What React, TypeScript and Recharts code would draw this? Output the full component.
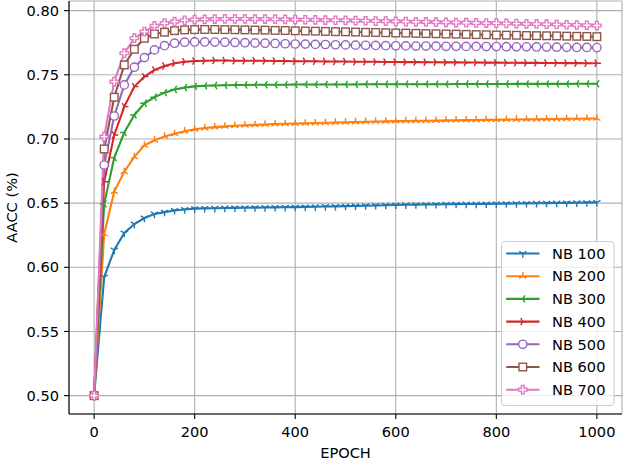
import React from 'react';
import { LineChart, Line, XAxis, YAxis, CartesianGrid, Legend } from 'recharts';

const EPOCHS = [
  0, 20, 40, 60, 80, 100, 120, 140, 160, 180, 200,
  220, 240, 260, 280, 300, 320, 340, 360, 380, 400,
  420, 440, 460, 480, 500, 520, 540, 560, 580, 600,
  620, 640, 660, 680, 700, 720, 740, 760, 780, 800,
  820, 840, 860, 880, 900, 920, 940, 960, 980, 1000,
];

const NB100 = [
  0.5000, 0.5924, 0.6135, 0.6267, 0.6337, 0.6384, 0.6415, 0.6430, 0.6443, 0.6450, 0.6457,
  0.6459, 0.6460, 0.6462, 0.6463, 0.6464, 0.6465, 0.6466, 0.6467, 0.6468, 0.6469,
  0.6471, 0.6472, 0.6474, 0.6475, 0.6477, 0.6478, 0.6480, 0.6482, 0.6484, 0.6486,
  0.6487, 0.6488, 0.6489, 0.6490, 0.6491, 0.6492, 0.6493, 0.6493, 0.6494, 0.6495,
  0.6496, 0.6497, 0.6498, 0.6499, 0.6500, 0.6501, 0.6502, 0.6503, 0.6504, 0.6506,
];

const NB200 = [
  0.5000, 0.6260, 0.6590, 0.6745, 0.6860, 0.6950, 0.6990, 0.7020, 0.7040, 0.7060, 0.7075,
  0.7085, 0.7092, 0.7098, 0.7103, 0.7107, 0.7110, 0.7113, 0.7116, 0.7118, 0.7120,
  0.7122, 0.7124, 0.7126, 0.7128, 0.7130, 0.7132, 0.7134, 0.7136, 0.7137, 0.7139,
  0.7140, 0.7141, 0.7142, 0.7143, 0.7145, 0.7146, 0.7147, 0.7148, 0.7149, 0.7150,
  0.7151, 0.7152, 0.7153, 0.7154, 0.7155, 0.7156, 0.7157, 0.7158, 0.7159, 0.7160,
];

const NB300 = [
  0.5000, 0.6495, 0.6855, 0.7050, 0.7187, 0.7278, 0.7325, 0.7361, 0.7385, 0.7400, 0.7410,
  0.7414, 0.7417, 0.7419, 0.7420, 0.7421, 0.7422, 0.7422, 0.7423, 0.7423, 0.7424,
  0.7424, 0.7424, 0.7425, 0.7425, 0.7425, 0.7425, 0.7426, 0.7426, 0.7426, 0.7426,
  0.7427, 0.7427, 0.7427, 0.7427, 0.7427, 0.7428, 0.7428, 0.7428, 0.7428, 0.7428,
  0.7428, 0.7429, 0.7429, 0.7429, 0.7429, 0.7429, 0.7429, 0.7430, 0.7430, 0.7430,
];

const NB400 = [
  0.5000, 0.6667, 0.7031, 0.7252, 0.7408, 0.7486, 0.7538, 0.7569, 0.7590, 0.7602, 0.7608,
  0.7610, 0.7611, 0.7611, 0.7610, 0.7610, 0.7609, 0.7609, 0.7608, 0.7607, 0.7606,
  0.7606, 0.7605, 0.7604, 0.7604, 0.7603, 0.7602, 0.7602, 0.7601, 0.7600, 0.7600,
  0.7599, 0.7599, 0.7598, 0.7598, 0.7597, 0.7597, 0.7596, 0.7596, 0.7595, 0.7595,
  0.7594, 0.7594, 0.7593, 0.7593, 0.7592, 0.7592, 0.7591, 0.7591, 0.7590, 0.7590,
];

const NB500 = [
  0.5000, 0.6797, 0.7179, 0.7421, 0.7559, 0.7634, 0.7694, 0.7727, 0.7746, 0.7754, 0.7756,
  0.7756, 0.7755, 0.7754, 0.7752, 0.7750, 0.7748, 0.7746, 0.7744, 0.7742, 0.7740,
  0.7739, 0.7737, 0.7736, 0.7734, 0.7733, 0.7731, 0.7730, 0.7729, 0.7727, 0.7726,
  0.7725, 0.7724, 0.7724, 0.7723, 0.7722, 0.7722, 0.7721, 0.7721, 0.7720, 0.7720,
  0.7719, 0.7718, 0.7718, 0.7717, 0.7716, 0.7715, 0.7714, 0.7713, 0.7713, 0.7712,
];

const NB600 = [
  0.5000, 0.6922, 0.7325, 0.7577, 0.7699, 0.7785, 0.7818, 0.7832, 0.7844, 0.7850, 0.7852,
  0.7853, 0.7853, 0.7852, 0.7851, 0.7850, 0.7849, 0.7848, 0.7846, 0.7845, 0.7843,
  0.7841, 0.7840, 0.7838, 0.7836, 0.7835, 0.7833, 0.7831, 0.7830, 0.7828, 0.7826,
  0.7825, 0.7823, 0.7821, 0.7820, 0.7818, 0.7817, 0.7815, 0.7813, 0.7812, 0.7810,
  0.7809, 0.7808, 0.7806, 0.7805, 0.7804, 0.7803, 0.7801, 0.7800, 0.7799, 0.7797,
];

const NB700 = [
  0.5000, 0.7018, 0.7447, 0.7668, 0.7785, 0.7836, 0.7881, 0.7902, 0.7914, 0.7925, 0.7930,
  0.7932, 0.7934, 0.7935, 0.7935, 0.7935, 0.7934, 0.7934, 0.7933, 0.7932, 0.7930,
  0.7929, 0.7928, 0.7926, 0.7925, 0.7924, 0.7922, 0.7921, 0.7919, 0.7918, 0.7916,
  0.7915, 0.7913, 0.7912, 0.7910, 0.7909, 0.7907, 0.7906, 0.7904, 0.7903, 0.7902,
  0.7900, 0.7899, 0.7897, 0.7896, 0.7894, 0.7892, 0.7890, 0.7888, 0.7886, 0.7884,
];

const X_TICKS = [0, 200, 400, 600, 800, 1000];
const Y_TICKS = [0.5, 0.55, 0.6, 0.65, 0.7, 0.75, 0.8];

type MarkerKind = 'triDown' | 'triUp' | 'triLeft' | 'triRight' | 'circle' | 'square' | 'plus';

const SERIES: { key: string; name: string; color: string; marker: MarkerKind; values: number[] }[] = [
  { key: 'nb100', name: 'NB 100', color: '#1f77b4', marker: 'triDown', values: NB100 },
  { key: 'nb200', name: 'NB 200', color: '#ff7f0e', marker: 'triUp', values: NB200 },
  { key: 'nb300', name: 'NB 300', color: '#2ca02c', marker: 'triLeft', values: NB300 },
  { key: 'nb400', name: 'NB 400', color: '#d62728', marker: 'triRight', values: NB400 },
  { key: 'nb500', name: 'NB 500', color: '#9467bd', marker: 'circle', values: NB500 },
  { key: 'nb600', name: 'NB 600', color: '#8c564b', marker: 'square', values: NB600 },
  { key: 'nb700', name: 'NB 700', color: '#e377c2', marker: 'plus', values: NB700 },
];

const DATA = EPOCHS.map((epoch, i) => {
  const row: Record<string, number> = { epoch };
  SERIES.forEach((s) => {
    row[s.key] = s.values[i];
  });
  return row;
});

const FONT = '"DejaVu Sans", sans-serif';
const FS = 14.6;
const MS = 8.33;
const MEW = 1.39;

function Marker({ kind, cx, cy, color }: { kind: MarkerKind; cx: number; cy: number; color: string }) {
  const r = MS / 2;
  const c = 0.866 * r;
  const h = 0.5 * r;
  const seg = (pts: [number, number][]) => (
    <path
      d={pts.map(([dx, dy]) => `M${cx},${cy}L${cx + dx},${cy + dy}`).join('')}
      stroke={color}
      strokeWidth={MEW}
      fill="none"
    />
  );
  switch (kind) {
    case 'triDown':
      return seg([[0, r], [-c, -h], [c, -h]]);
    case 'triUp':
      return seg([[0, -r], [-c, h], [c, h]]);
    case 'triLeft':
      return seg([[-r, 0], [h, -c], [h, c]]);
    case 'triRight':
      return seg([[r, 0], [-h, -c], [-h, c]]);
    case 'circle':
      return <circle cx={cx} cy={cy} r={r} fill="#ffffff" stroke={color} strokeWidth={MEW} />;
    case 'square': {
      const s = 3.8;
      return <rect x={cx - s} y={cy - s} width={2 * s} height={2 * s} fill="#ffffff" stroke={color} strokeWidth={MEW} />;
    }
    case 'plus': {
      const a = MS / 2;
      const b = MS / 6;
      const pts: [number, number][] = [
        [-b, -a], [b, -a], [b, -b], [a, -b], [a, b], [b, b],
        [b, a], [-b, a], [-b, b], [-a, b], [-a, -b], [-b, -b],
      ];
      return (
        <path
          d={pts.map(([dx, dy], i) => `${i === 0 ? 'M' : 'L'}${cx + dx},${cy + dy}`).join('') + 'Z'}
          fill="#ffffff"
          stroke={color}
          strokeWidth={MEW}
          strokeLinejoin="miter"
        />
      );
    }
    default:
      return null;
  }
}

function makeDot(kind: MarkerKind, color: string) {
  return (props: any) => {
    const { cx, cy, index } = props;
    if (cx == null || cy == null) return <g key={`d-${index}`} />;
    return (
      <g key={`d-${kind}-${index}`}>
        <Marker kind={kind} cx={cx} cy={cy} color={color} />
      </g>
    );
  };
}

function LegendBox() {
  const rowH = 22.7;
  return (
    <svg width={114} height={166} style={{ display: 'block', overflow: 'visible' }}>
      <rect x={0.5} y={0.5} width={112.5} height={164} rx={3} ry={3} fill="#ffffff" fillOpacity={0.8} stroke="#cccccc" strokeWidth={1} />
      {SERIES.map((s, i) => {
        const y = 12.5 + i * rowH;
        return (
          <g key={s.key}>
            <line x1={5.2} x2={38.5} y1={y} y2={y} stroke={s.color} strokeWidth={2.08} />
            <Marker kind={s.marker} cx={21.8} cy={y} color={s.color} />
            <text x={51} y={y} dy="0.36em" fontFamily={FONT} fontSize={FS} fill="#000000">
              {s.name}
            </text>
          </g>
        );
      })}
    </svg>
  );
}

function YLabel(props: any) {
  const vb = props.viewBox || { x: 0, y: 0, width: 0, height: 0 };
  const x = vb.x + 16.5;
  const y = vb.y + vb.height / 2;
  return (
    <text x={x} y={y} transform={`rotate(-90, ${x}, ${y})`} textAnchor="middle" fontFamily={FONT} fontSize={FS} fill="#000000">
      AACC (%)
    </text>
  );
}

function XLabel(props: any) {
  const vb = props.viewBox || { x: 0, y: 0, width: 0, height: 0 };
  const x = vb.x + vb.width / 2;
  const y = vb.y + 43.6;
  return (
    <text x={x} y={y} textAnchor="middle" fontFamily={FONT} fontSize={FS} fill="#000000">
      EPOCH
    </text>
  );
}

const tickStyle = { fontFamily: FONT, fontSize: FS, fill: '#000000' };

export default function App() {
  return (
    <div style={{ position: 'absolute', left: 0, top: 0, width: 623, height: 461, background: '#ffffff' }}>
      <LineChart width={623} height={461} data={DATA} margin={{ top: 1, right: 1, bottom: 0, left: 0 }}>
        <CartesianGrid stroke="#b0b0b0" strokeWidth={1.1} />
        <XAxis
          dataKey="epoch"
          type="number"
          domain={[-50, 1050]}
          ticks={X_TICKS}
          allowDataOverflow
          height={47}
          tickSize={5}
          tickMargin={8}
          tick={tickStyle}
          stroke="#000000"
          strokeWidth={1.1}
          tickLine={{ stroke: '#000000', strokeWidth: 1.1 }}
          label={XLabel}
        />
        <XAxis
          xAxisId="top"
          orientation="top"
          dataKey="epoch"
          type="number"
          domain={[-50, 1050]}
          allowDataOverflow
          height={0}
          tick={false}
          tickLine={false}
          stroke="#000000"
          strokeWidth={1.1}
        />
        <YAxis
          type="number"
          domain={[0.4857, 0.8075]}
          ticks={Y_TICKS}
          allowDataOverflow
          width={69}
          tickSize={5}
          tickMargin={5}
          tick={tickStyle}
          tickFormatter={(v: number) => v.toFixed(2)}
          stroke="#000000"
          strokeWidth={1.1}
          tickLine={{ stroke: '#000000', strokeWidth: 1.1 }}
          label={YLabel}
        />
        <YAxis
          yAxisId="right"
          orientation="right"
          type="number"
          domain={[0.4857, 0.8075]}
          allowDataOverflow
          width={0}
          tick={false}
          tickLine={false}
          stroke="#000000"
          strokeWidth={1.1}
        />
        {SERIES.map((s) => (
          <Line
            key={s.key}
            type="linear"
            dataKey={s.key}
            name={s.name}
            stroke={s.color}
            strokeWidth={2.08}
            dot={makeDot(s.marker, s.color)}
            activeDot={false}
            isAnimationActive={false}
          />
        ))}
        <Legend
          layout="vertical"
          align="center"
          verticalAlign="middle"
          content={() => <LegendBox />}
          wrapperStyle={{ left: 501, top: 241, width: 114, height: 166, margin: 0, padding: 0 }}
        />
      </LineChart>
    </div>
  );
}
